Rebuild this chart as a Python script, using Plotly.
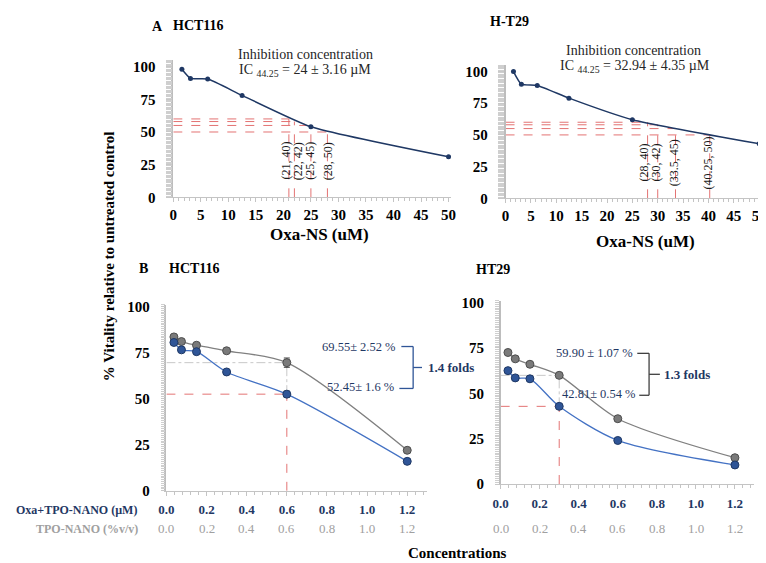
import plotly.graph_objects as go

W, H = 766, 563
SERIF = "Liberation Serif, Times New Roman, Times, serif"
NAVY = "#1f3864"
BLUE_LINE = "#4472c4"
BLUE_MARK = "#2f5597"
GRAY_LINE = "#808080"
GRAY_MARK = "#7a7a7a"
RED = "rgba(226,108,108,0.95)"
AXIS_GRAY = "#c4c4c4"

# ---------------- Data: panel A (Oxa-NS dose response) ----------------
a_conc = [1.5625, 3.125, 6.25, 12.5, 25, 50]
a_hct116 = [98, 91, 90.5, 78, 54, 31]
a_ht29 = [100, 90, 89, 79, 62, 43]
a_vitality_levels = [60, 58, 55, 50]
a_hct116_ic_conc = [21, 22, 25, 28]
a_ht29_ic_conc = [28, 30, 33.5, 40.25]
a_hct116_ic_labels = ["(21, 40)", "(22, 42)", "(25, 45)", "(28, 50)"]
a_ht29_ic_labels = ["(28, 40)", "(30, 42)", "(33.5, 45)", "(40.25, 50)"]
a_x_ticks = [0, 5, 10, 15, 20, 25, 30, 35, 40, 45, 50]
a_y_ticks = [0, 25, 50, 75, 100]

# ---------------- Data: panel B (TPO-NANO vs Oxa+TPO-NANO) ----------------
b_conc = [0.0375, 0.075, 0.15, 0.3, 0.6, 1.2]
b_hct116_tpo = [83.5, 81, 79, 76, 69.55, 22]
b_hct116_oxa_tpo = [80.5, 76.5, 75.5, 64.5, 52.45, 16]
b_hct116_tpo_err = [None, None, None, None, 2.52, None]
b_hct116_oxa_tpo_err = [None, None, None, None, 1.6, None]
b_ht29_tpo = [72.5, 69, 66, 59.9, 36, 14.5]
b_ht29_oxa_tpo = [62.5, 58.5, 58, 42.81, 24, 10.5]
b_ht29_tpo_err = [None, None, None, 1.07, None, None]
b_ht29_oxa_tpo_err = [None, None, None, 0.54, None, None]
b_hct116_ref = 4   # index of 0.6 readout
b_ht29_ref = 3     # index of 0.3 readout
b_x_ticks = [0.0, 0.2, 0.4, 0.6, 0.8, 1.0, 1.2]
b_x_ticktext = ["0.0", "0.2", "0.4", "0.6", "0.8", "1.0", "1.2"]
b_y_ticks = [0, 25, 50, 75, 100]


def xd(p0, p1):
    return [p0 / W, p1 / W]


def yd(pbot, ptop):
    return [1 - pbot / H, 1 - ptop / H]


def px(x):
    return x / W


def py(y):
    return 1 - y / H


fig = go.Figure()

# panel A traces
fig.add_trace(go.Scatter(x=a_conc, y=a_hct116, mode="lines+markers", xaxis="x", yaxis="y",
                         line=dict(color=NAVY, width=1.5, shape="spline", smoothing=0.5),
                         marker=dict(size=5, color=NAVY), showlegend=False))
fig.add_trace(go.Scatter(x=a_conc, y=a_ht29, mode="lines+markers", xaxis="x2", yaxis="y2",
                         line=dict(color=NAVY, width=1.5, shape="spline", smoothing=0.5),
                         marker=dict(size=5, color=NAVY), showlegend=False))


def b_traces(xa, ya, tpo, tpo_err, oxa, oxa_err):
    fig.add_trace(go.Scatter(x=b_conc, y=tpo, mode="lines+markers", xaxis=xa, yaxis=ya,
                             line=dict(color=GRAY_LINE, width=1.3, shape="spline", smoothing=0.8),
                             marker=dict(size=8, color=GRAY_MARK, line=dict(color="#4d4d4d", width=1)),
                             error_y=dict(type="data", array=tpo_err, color="#404040", thickness=1, width=3),
                             showlegend=False))
    fig.add_trace(go.Scatter(x=b_conc, y=oxa, mode="lines+markers", xaxis=xa, yaxis=ya,
                             line=dict(color=BLUE_LINE, width=1.3, shape="spline", smoothing=0.8),
                             marker=dict(size=8, color=BLUE_MARK, line=dict(color=NAVY, width=1)),
                             error_y=dict(type="data", array=oxa_err, color="#404040", thickness=1, width=3),
                             showlegend=False))


b_traces("x3", "y3", b_hct116_tpo, b_hct116_tpo_err, b_hct116_oxa_tpo, b_hct116_oxa_tpo_err)
b_traces("x4", "y4", b_ht29_tpo, b_ht29_tpo_err, b_ht29_oxa_tpo, b_ht29_oxa_tpo_err)

shapes = []
# panel A red guide lines
for xa, ya, concs in (("x", "y", a_hct116_ic_conc), ("x2", "y2", a_ht29_ic_conc)):
    for c, v in zip(concs, a_vitality_levels):
        shapes.append(dict(type="line", xref=xa, yref=ya, x0=0, x1=c, y0=v, y1=v,
                           line=dict(color=RED, width=1, dash="dash"), layer="below"))
        shapes.append(dict(type="line", xref=xa, yref=ya, x0=c, x1=c, y0=0, y1=v,
                           line=dict(color=RED, width=1, dash="dash"), layer="below"))

# panel B guide lines
for xa, ya, tpo, oxa, i in (("x3", "y3", b_hct116_tpo, b_hct116_oxa_tpo, b_hct116_ref),
                             ("x4", "y4", b_ht29_tpo, b_ht29_oxa_tpo, b_ht29_ref)):
    c = b_conc[i]
    shapes.append(dict(type="line", xref=xa, yref=ya, x0=0, x1=c, y0=tpo[i], y1=tpo[i],
                       line=dict(color="#c8c8c8", width=1, dash="dashdot"), layer="below"))
    shapes.append(dict(type="line", xref=xa, yref=ya, x0=c, x1=c, y0=oxa[i], y1=tpo[i],
                       line=dict(color="#c8c8c8", width=1, dash="dashdot"), layer="below"))
    shapes.append(dict(type="line", xref=xa, yref=ya, x0=0, x1=c, y0=oxa[i], y1=oxa[i],
                       line=dict(color=RED, width=1, dash="dash"), layer="below"))
    shapes.append(dict(type="line", xref=xa, yref=ya, x0=c, x1=c, y0=0, y1=oxa[i],
                       line=dict(color=RED, width=1, dash="dash"), layer="below"))


# brackets (pixel layout)
def bracket(xl_top, xl_bot, xv, ytop, ybot, xmid, color):
    for seg in ((xl_top, ytop, xv, ytop), (xl_bot, ybot, xv, ybot), (xv, ytop, xv, ybot),
                (xv, (ytop + ybot) / 2, xmid, (ytop + ybot) / 2)):
        shapes.append(dict(type="line", xref="paper", yref="paper",
                           x0=px(seg[0]), y0=py(seg[1]), x1=px(seg[2]), y1=py(seg[3]),
                           line=dict(color=color, width=1.3)))


bracket(392, 390, 404, 341, 384, 413, BLUE_MARK)
bracket(632, 634, 644, 348, 391, 655, "#404040")

anns = []


def ann(text, x, y, size, color="black", bold=False, xanchor="center", angle=0, yanchor="middle"):
    anns.append(dict(text=text, x=px(x), y=py(y), xref="paper", yref="paper", showarrow=False,
                     xanchor=xanchor, yanchor=yanchor, textangle=angle,
                     font=dict(family=SERIF, size=size, color=color, weight="bold" if bold else "normal")))


# panel labels
ann("A", 144, 13, 14, bold=True)
ann("HCT116", 186, 12, 14, bold=True)
ann("H-T29", 502, 8, 14, bold=True)
ann("B", 130, 261, 14, bold=True)
ann("HCT116", 182, 261, 14, bold=True)
ann("HT29", 485, 262, 14, bold=True)

# IC text
ann("Inhibition concentration", 294, 42, 14, color="#262626")
ann("IC <sub>44.25</sub> = 24 ± 3.16 µM", 294, 58, 14, color="#262626")
ann("Inhibition concentration", 628, 37, 14, color="#262626")
ann("IC <sub>44.25</sub> = 32.94 ± 4.35 µM", 630, 54, 14, color="#262626")

# axis titles
ann("Oxa-NS (uM)", 309, 226, 17, bold=True)
ann("Oxa-NS (uM)", 640, 233, 17, bold=True)
ann("% Vitality relative to untreated control", 94, 248, 15, bold=True, angle=-90)
ann("Concentrations", 449, 553, 15, bold=True)
ann("Oxa+TPO-NANO (µM)", 125, 509, 12, color=NAVY, bold=True, xanchor="right")
ann("TPO-NANO (%v/v)", 126, 528, 12, color="#a0a0a0", bold=True, xanchor="right")

# readout values
ann("%.2f± %.2f %%" % (b_hct116_tpo[b_hct116_ref], b_hct116_tpo_err[b_hct116_ref]), 389, 341, 12.5,
    color=NAVY, xanchor="right")
ann("%.2f± %.1f %%" % (b_hct116_oxa_tpo[b_hct116_ref], b_hct116_oxa_tpo_err[b_hct116_ref]), 387, 383, 12.5,
    color=NAVY, xanchor="right")
ann("1.4 folds", 417, 363, 13, color=NAVY, bold=True, xanchor="left")
ann("%.2f ± %.2f %%" % (b_ht29_tpo[b_ht29_ref], b_ht29_tpo_err[b_ht29_ref]), 630, 348, 12.5,
    color=NAVY, xanchor="right")
ann("%.2f± %.2f %%" % (b_ht29_oxa_tpo[b_ht29_ref], b_ht29_oxa_tpo_err[b_ht29_ref]), 633, 390, 12.5,
    color=NAVY, xanchor="right")
ann("1.3 folds", 657, 370, 13, color=NAVY, bold=True, xanchor="left")

# IC point labels (rotated) in data coordinates
for xa, ya, concs, labels, shifts in (("x", "y", a_hct116_ic_conc, a_hct116_ic_labels, [-3, 3, -1, 0]),
                                      ("x2", "y2", a_ht29_ic_conc, a_ht29_ic_labels, [-4, -2, -2, -2])):
    for c, t, s in zip(concs, labels, shifts):
        anns.append(dict(text=t, x=c, y=28, xref=xa, yref=ya, showarrow=False, textangle=-90,
                         xshift=s, xanchor="center", yanchor="middle",
                         font=dict(family=SERIF, size=12, color="#1a1a1a")))

# gray second tick row for panel B
for xa in ("x3", "x4"):
    for v, t in zip(b_x_ticks, b_x_ticktext):
        anns.append(dict(text=t, x=v, y=py(528), xref=xa, yref="paper", showarrow=False,
                         xanchor="center", yanchor="middle",
                         font=dict(family=SERIF, size=13, color="#a0a0a0")))

tick_font_a = dict(family=SERIF, size=15, color="black", weight="bold")
tick_font_b = dict(family=SERIF, size=13, color=NAVY, weight="bold")
tick_font_by = dict(family=SERIF, size=15, color="black", weight="bold")


def xa_common(rng, ticks, font, dminor, standoff, ticktext=None):
    d = dict(range=rng, tickvals=ticks, tickfont=font, showgrid=False, zeroline=False,
             showline=True, linecolor=AXIS_GRAY, linewidth=1, ticks="outside", ticklen=4,
             tickcolor=AXIS_GRAY, ticklabelstandoff=standoff,
             minor=dict(dtick=dminor, ticks="outside", ticklen=3, tickcolor=AXIS_GRAY, showgrid=False))
    if ticktext:
        d["ticktext"] = ticktext
    return d


def ya_common(rng, ticks, font, ticklen, standoff):
    return dict(range=rng, tickvals=ticks, tickfont=font, showgrid=False, zeroline=False,
                showline=True, linecolor="#bdbdbd", linewidth=1.5, ticks="outside", ticklen=ticklen,
                tickcolor="#c8c8c8", ticklabelstandoff=standoff,
                minor=dict(dtick=1, ticks="outside", ticklen=ticklen, tickwidth=1,
                           tickcolor="#cfcfcf", showgrid=False))


fig.update_layout(
    width=W, height=H, autosize=False,
    margin=dict(l=0, r=0, t=0, b=0),
    paper_bgcolor="white", plot_bgcolor="white",
    font=dict(family=SERIF),
    xaxis=dict(domain=xd(160, 442.8), anchor="y", **xa_common([0, 50.5], a_x_ticks, tick_font_a, 1, 0)),
    yaxis=dict(domain=yd(188, 47.3), anchor="x", **ya_common([0, 105], a_y_ticks, tick_font_a, 6, 7)),
    xaxis2=dict(domain=xd(498, 758.6), anchor="y2", **xa_common([0, 50.5], a_x_ticks, tick_font_a, 1, 0)),
    yaxis2=dict(domain=yd(189, 52.5), anchor="x2", **ya_common([0, 105], a_y_ticks, tick_font_a, 6, 7)),
    xaxis3=dict(domain=xd(153, 418.4), anchor="y3",
                **xa_common([0, 1.3], b_x_ticks, tick_font_b, 0.04, 3, b_x_ticktext)),
    yaxis3=dict(domain=yd(489, 298.1), anchor="x3", **ya_common([0, 101], b_y_ticks, tick_font_by, 4, 8)),
    xaxis4=dict(domain=xd(493, 751.2), anchor="y4",
                **xa_common([0, 1.3], b_x_ticks, tick_font_b, 0.04, 3, b_x_ticktext)),
    yaxis4=dict(domain=yd(482, 294.1), anchor="x4", **ya_common([0, 101], b_y_ticks, tick_font_by, 4, 8)),
    shapes=shapes,
    annotations=anns,
)

fig.write_html("out.html")
